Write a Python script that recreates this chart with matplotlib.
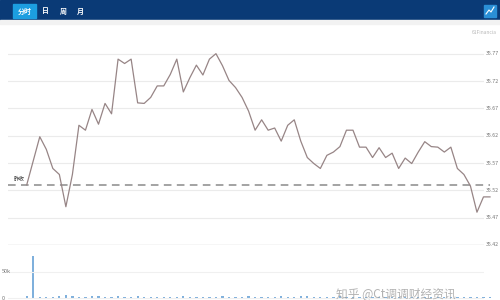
import numpy as np
import matplotlib
matplotlib.use("Agg")
import matplotlib.pyplot as plt
from matplotlib.patches import Rectangle

plt.rcParams['font.family'] = ['Noto Sans CJK SC', 'DejaVu Sans']

# intraday price, one point per step
prices = [35.530, 35.574, 35.618, 35.595, 35.560, 35.549, 35.490, 35.549, 35.639, 35.630,
          35.668, 35.641, 35.679, 35.660, 35.760, 35.752, 35.760, 35.680, 35.679, 35.690,
          35.711, 35.711, 35.732, 35.760, 35.700, 35.726, 35.749, 35.731, 35.760, 35.770,
          35.748, 35.721, 35.708, 35.690, 35.665, 35.630, 35.649, 35.630, 35.634, 35.610,
          35.639, 35.649, 35.610, 35.580, 35.569, 35.560, 35.584, 35.590, 35.600, 35.630,
          35.630, 35.599, 35.599, 35.580, 35.598, 35.580, 35.588, 35.560, 35.579, 35.569,
          35.590, 35.609, 35.600, 35.599, 35.590, 35.599, 35.560, 35.549, 35.528, 35.480,
          35.508, 35.508]
prev_close = 35.53
price_ticks = [35.42, 35.47, 35.52, 35.57, 35.62, 35.67, 35.72, 35.77]

# volume per step
volumes = [3000, 80000, 1500, 1200, 1000, 4000, 5000, 4000, 1500, 1200,
           4000, 3500, 1000, 1200, 4500, 1500, 1000, 4000, 1200, 1000,
           1500, 1000, 1200, 1000, 4500, 1200, 1000, 1500, 1000, 1200,
           4000, 1000, 1200, 1500, 4500, 1000, 1200, 1000, 1500, 4000,
           1200, 1000, 4500, 3500, 1000, 1200, 1500, 1000, 4000, 1200,
           1000, 1500, 1200, 1000, 1500, 1200, 1000, 1200, 1500, 1000,
           1200, 1000, 1500, 1200, 1000, 1200, 1500, 1000, 1200, 1500,
           1000, 1200]
vol_ticks = [0, 50000]
vol_labels = ['0', '50k']

tabs = ['分时', '日', '周', '月']

W, H = 500, 300
fig = plt.figure(figsize=(5, 3), dpi=100)
fig.patch.set_facecolor('white')


def box(x0, y0, x1, y1):
    # pixel box (top-left origin) -> figure rect
    return [x0 / W, 1 - y1 / H, (x1 - x0) / W, (y1 - y0) / H]


# header bar
fig.patches.append(Rectangle((0, 1 - 20 / H), 1, 20 / H, transform=fig.transFigure,
                             color='#0a3a76', zorder=0))
fig.patches.append(Rectangle((0, 1 - 24 / H), 1, 4 / H, transform=fig.transFigure,
                             color='#f2f2f2', zorder=0))
fig.patches.append(Rectangle((13 / W, 1 - 18 / H), 23 / W, 14 / H, transform=fig.transFigure,
                             color='#1c9ee0', zorder=1))
for t, xp in zip(tabs, [24.5, 45, 63, 80]):
    fig.text(xp / W, 1 - 11 / H, t, color='white', fontsize=5, fontweight='bold',
             ha='center', va='center')
# chart icon on the right
fig.patches.append(Rectangle((484 / W, 1 - 17 / H), 12 / W, 12 / H, transform=fig.transFigure,
                             color='#2a8fd6', zorder=1))
fig.lines.append(plt.Line2D([486 / W, 489 / W, 491 / W, 494 / W],
                            [1 - 14 / H, 1 - 10 / H, 1 - 12 / H, 1 - 7 / H],
                            transform=fig.transFigure, color='white', lw=0.8))
fig.text(497 / W, 1 - 33 / H, '61Financia', color='#b8b8b8', fontsize=3.5,
         ha='right', va='center')

# price panel
x = np.arange(len(prices))
xmin, xmax = -2.87, 70.08
ax = fig.add_axes(box(8, 40, 484, 245))
ax.set_xlim(xmin, xmax)
ax.set_ylim(35.42, 35.795)
ax.set_yticks(price_ticks)
ax.grid(axis='y', color='#ebebeb', lw=0.8)
ax.tick_params(left=False, right=False, bottom=False, labelleft=False, labelbottom=False)
for s in ax.spines.values():
    s.set_visible(False)
ax.axhline(price_ticks[0], color='#dddddd', lw=1)
ax.plot([xmin, len(prices) - 1], [prev_close, prev_close], color='#8a8a8a', lw=1.1,
        ls=(0, (5, 3.5)), clip_on=False)
ax.plot(x, prices, color='#978586', lw=0.9, clip_on=False)
ax.text(-2.0, prev_close + 0.006, '昨收', fontsize=4, color='#333333', va='bottom')
for v in price_ticks:
    ax.text(1.004, v, f'{v:.2f}', transform=ax.get_yaxis_transform(),
            fontsize=3.8, color='#777777', ha='left', va='center')

# volume panel
axv = fig.add_axes(box(8, 248, 484, 300))
axv.bar(x, volumes, width=0.35, color='#7fb0dc', clip_on=False)
axv.set_xlim(xmin, xmax)
axv.set_ylim(-3800, 96000)
axv.set_yticks(vol_ticks)
axv.grid(axis='y', color='#f0f0f0', lw=0.8)
axv.tick_params(left=False, bottom=False, labelleft=False, labelbottom=False)
for s in axv.spines.values():
    s.set_visible(False)
for v, lab in zip(vol_ticks, vol_labels):
    fig.text(2 / W, axv.transData.transform((0, v))[1] / H, lab, fontsize=4,
             color='#777777', ha='left', va='center')

# watermark
fig.text(336 / W, 1 - 287 / H, '知乎 @Ct调调财经资讯', fontsize=8.5, color='#a0a0a0',
         ha='left', va='top', alpha=0.8)

fig.savefig('out.png', dpi=100)
